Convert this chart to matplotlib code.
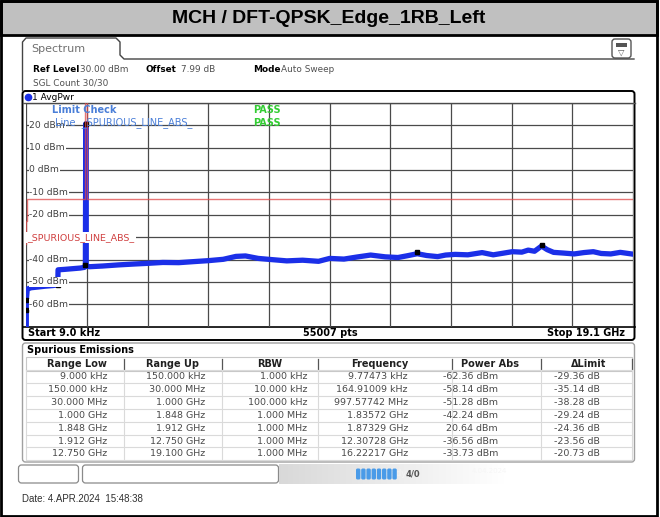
import matplotlib.pyplot as plt
import numpy as np
from matplotlib.patches import Rectangle, FancyBboxPatch

# --- data ---
# trace (GHz, dBm)
trace_f = [0.000009, 0.00001, 0.0001, 0.03, 0.15, 0.35, 0.6, 0.85, 0.99,
           1.0, 1.2, 1.45, 1.7, 1.83, 1.86, 1.873, 1.886, 2.0, 2.4, 2.9,
           3.4, 3.82, 4.3, 4.8, 5.3, 5.73, 6.2, 6.6, 6.9, 7.3, 7.7, 8.2,
           8.7, 9.2, 9.55, 10.0, 10.4, 10.84, 11.3, 11.7, 12.0, 12.31,
           12.6, 12.95, 13.2, 13.5, 13.9, 14.35, 14.7, 15.0, 15.3, 15.6,
           15.8, 16.0, 16.22, 16.4, 16.6, 16.9, 17.25, 17.55, 17.85, 18.1,
           18.4, 18.7, 19.05, 19.1]
trace_p = [-75.0, -62.4, -58.1, -53.2, -52.6, -52.3, -51.9, -51.6, -51.3,
           -44.6, -44.4, -44.1, -43.8, -43.5, -42.8, 20.64, -43.0, -43.2,
           -42.9, -42.4, -42.0, -41.7, -41.3, -41.4, -40.9, -40.5, -39.9,
           -38.6, -38.4, -39.5, -40.0, -40.6, -40.3, -40.8, -39.5, -39.8,
           -38.9, -38.0, -38.8, -39.1, -38.3, -37.4, -38.2, -38.7, -38.0,
           -37.7, -37.9, -36.9, -37.9, -37.2, -36.5, -36.7, -35.8, -36.3,
           -34.0, -35.6, -36.8, -37.1, -37.5, -36.9, -36.5, -37.3, -37.5,
           -36.8, -37.5, -37.6]

# limit line ranges (GHz) and limits (dBm)
range_edges = [0.000009, 0.00015, 0.03, 1.0, 1.848, 1.912, 12.75, 19.1]
range_limits = [-33, -23, -13, -13, 45, -13, -13]

# peak markers (GHz, dBm)
marker_f = [0.00000977473, 0.00016491009, 0.99757742, 1.83572, 1.87329,
            12.30728, 16.22217]
marker_p = [-62.36, -58.14, -51.28, -42.24, 20.64, -36.56, -33.73]

y_ticks = [20, 10, 0, -10, -20, -40, -50, -60]

# spurious emissions table
col_range_low = ["9.000 kHz", "150.000 kHz", "30.000 MHz", "1.000 GHz",
                 "1.848 GHz", "1.912 GHz", "12.750 GHz"]
col_range_up = ["150.000 kHz", "30.000 MHz", "1.000 GHz", "1.848 GHz",
                "1.912 GHz", "12.750 GHz", "19.100 GHz"]
col_rbw = ["1.000 kHz", "10.000 kHz", "100.000 kHz", "1.000 MHz",
           "1.000 MHz", "1.000 MHz", "1.000 MHz"]
col_freq = ["9.77473 kHz", "164.91009 kHz", "997.57742 MHz", "1.83572 GHz",
            "1.87329 GHz", "12.30728 GHz", "16.22217 GHz"]
col_power = ["-62.36 dBm", "-58.14 dBm", "-51.28 dBm", "-42.24 dBm",
             "20.64 dBm", "-36.56 dBm", "-33.73 dBm"]
col_delta = ["-29.36 dB", "-35.14 dB", "-38.28 dB", "-29.24 dB",
             "-24.36 dB", "-23.56 dB", "-20.73 dB"]
headers = ["Range Low", "Range Up", "RBW", "Frequency", "Power Abs", "ΔLimit"]

W, H = 660, 517
fig = plt.figure(figsize=(W / 100, H / 100), dpi=100)
bg = fig.add_axes([0, 0, 1, 1])
bg.set_xlim(0, W)
bg.set_ylim(H, 0)
bg.axis("off")
px = bg.transData

# outer frame and title band
bg.add_patch(Rectangle((1, 1), 656, 34, facecolor="#C0C0C0",
                       edgecolor="black", lw=2))
bg.add_patch(Rectangle((1, 1), 656, 515, facecolor="none",
                       edgecolor="black", lw=2))
bg.text(329, 18.5, "MCH / DFT-QPSK_Edge_1RB_Left", ha="center", va="center",
        fontsize=14, fontweight="bold", family="Liberation Sans")

# spectrum tab
tab_x = [22.5, 22.5, 26, 116, 120, 120, 124, 634]
tab_y = [91, 42, 38, 38, 42, 55, 59, 59]
bg.plot(tab_x, tab_y, color="#444444", lw=1)
bg.text(31, 49, "Spectrum", fontsize=8, color="#707070", va="center")
bg.add_patch(FancyBboxPatch((612, 39), 19, 19, boxstyle="round,pad=0,rounding_size=3",
                            facecolor="white", edgecolor="#555555", lw=1))
bg.add_patch(Rectangle((616, 43), 11, 4, facecolor="#555555", edgecolor="none"))
bg.text(621.5, 52.5, "▽", fontsize=6, ha="center", va="center", color="#555555")

# header info
f_info = dict(fontsize=6.4, va="center", family="DejaVu Sans")
bg.text(33, 70, "Ref Level", fontweight="bold", **f_info)
bg.text(80, 70, "30.00 dBm", color="#505050", **f_info)
bg.text(145, 70, "Offset", fontweight="bold", **f_info)
bg.text(181, 70, "7.99 dB", color="#505050", **f_info)
bg.text(253, 70, "Mode", fontweight="bold", **f_info)
bg.text(281, 70, "Auto Sweep", color="#505050", **f_info)
bg.text(33, 83, "SGL Count 30/30", color="#505050", **f_info)

# diagram box
bg.add_patch(FancyBboxPatch((22.5, 91), 612, 249, boxstyle="round,pad=0,rounding_size=3",
                            facecolor="white", edgecolor="black", lw=1.4))
bg.plot([22.5, 634.5], [102.8, 102.8], color="#555555", lw=1)
bg.plot([27.5], [97], "o", color="#1B2FE8", ms=4.5)
bg.text(32, 97.5, "1 AvgPwr", fontsize=6.5, va="center")
bg.text(28, 333, "Start 9.0 kHz", fontsize=7, fontweight="bold", va="center")
bg.text(330, 333, "55007 pts", fontsize=7, fontweight="bold", va="center", ha="center")
bg.text(625, 333, "Stop 19.1 GHz", fontsize=7, fontweight="bold", va="center", ha="right")
bg.plot([22.5, 634.5], [326.7, 326.7], color="black", lw=1.2)

# spectrum plot
f_start, f_stop = range_edges[0], range_edges[-1]
ax = fig.add_axes([26.3 / W, (H - 326.7) / H, 606.7 / W, 223.9 / H])
ax.patch.set_alpha(0)
ax.set_xlim(f_start, f_stop)
ax.set_ylim(-70, 30)
ax.set_xticks(np.linspace(f_start, f_stop, 11))
ax.set_yticks(np.arange(-70, 31, 10))
ax.grid(True, color="#4a4a4a", lw=0.9)
ax.tick_params(length=0, labelbottom=False, labelleft=False)
for s in ax.spines.values():
    s.set_visible(False)

ax.plot(trace_f, trace_p, color="#1B2FE8", lw=3.8, solid_joinstyle="round", zorder=3)
ax.plot(marker_f, marker_p, "s", color="black", ms=2.4, zorder=4)

lim_x = np.repeat(range_edges, 2)[1:-1]
lim_y = np.repeat(range_limits, 2)
ax.plot(lim_x, lim_y, color="#E04848", lw=1, alpha=0.75, zorder=5)

for v in y_ticks:
    ax.text(0.005, v, f"{v} dBm", transform=ax.get_yaxis_transform(),
            fontsize=6.6, color="#404040", va="center", zorder=6,
            bbox=dict(facecolor="white", edgecolor="none", pad=0.6))
ax.text(0.002, -30, "_SPURIOUS_LINE_ABS_", transform=ax.get_yaxis_transform(),
        fontsize=6.8, color="#D04040", va="center", zorder=6,
        bbox=dict(facecolor="white", edgecolor="none", pad=0.8))
ax.text(52, 110, "Limit Check", transform=px, fontsize=7, color="#4A7FD8",
        va="center", fontweight="bold", zorder=7)
ax.text(55, 123, "Line  _SPURIOUS_LINE_ABS_", transform=px, fontsize=7,
        color="#4A7FD8", va="center", zorder=7)
ax.text(253, 110, "PASS", transform=px, fontsize=7, color="#33CC33",
        va="center", fontweight="bold", zorder=7)
ax.text(253, 123, "PASS", transform=px, fontsize=7, color="#33CC33",
        va="center", fontweight="bold", zorder=7)

# spurious emissions table
bg.add_patch(FancyBboxPatch((22.5, 343), 612, 119, boxstyle="round,pad=0,rounding_size=3",
                            facecolor="white", edgecolor="#A0A0A0", lw=1))
bg.text(27, 350, "Spurious Emissions", fontsize=7, fontweight="bold", va="center")
col_div = [26, 124, 222, 318, 452, 541, 632]
head_cx = [77, 173, 270, 380, 490, 589]
val_rx = [107, 205, 307, 408, 498, 600]
head_y = 364
row_y0, row_h = 376.5, 12.9
n_rows = len(col_range_low)
bg.add_patch(Rectangle((26, 357), 606, 14, facecolor="white", edgecolor="#C8C8C8", lw=0.8))
for xd in col_div[1:]:
    bg.plot([xd, xd], [359, 369], color="#555555", lw=0.9)
for h, cx in zip(headers, head_cx):
    bg.text(cx, head_y, h, fontsize=7, fontweight="bold", ha="center", va="center",
            color="#202020")
for i in range(n_rows + 1):
    yl = row_y0 - row_h / 2 + i * row_h
    bg.plot([26, 632], [yl, yl], color="#DADADA", lw=0.8)
for xd in col_div:
    bg.plot([xd, xd], [row_y0 - row_h / 2, row_y0 - row_h / 2 + n_rows * row_h],
            color="#DADADA", lw=0.8)
cols = [col_range_low, col_range_up, col_rbw, col_freq, col_power, col_delta]
for col, rx in zip(cols, val_rx):
    for i, s in enumerate(col):
        bg.text(rx, row_y0 + i * row_h, s, fontsize=6.8, ha="right", va="center",
                color="#4a4a4a")

# status bar
bg.add_patch(FancyBboxPatch((18.5, 465), 60, 18, boxstyle="round,pad=0,rounding_size=3",
                            facecolor="white", edgecolor="#8a8a8a", lw=0.9))
bg.add_patch(FancyBboxPatch((82.5, 465), 196, 18, boxstyle="round,pad=0,rounding_size=3",
                            facecolor="white", edgecolor="#8a8a8a", lw=0.9))
grad = np.linspace(0, 1, 100)[None, :]
shade = 0.85 + 0.15 * grad
bg.imshow(np.dstack([shade, shade, shade]), extent=[279, 505, 484, 464],
          aspect="auto", zorder=1)
bg.text(380, 474, "Ready", fontsize=6, color="#f4f4f4", va="center", zorder=2)
for k in range(8):
    bg.add_patch(FancyBboxPatch((356 + k * 5.2, 468.5), 4.4, 11,
                                boxstyle="round,pad=0,rounding_size=1.5",
                                facecolor="#4A9BE8", edgecolor="none", zorder=3))
bg.text(406, 474, "4/0", fontsize=6, color="#555555", fontweight="bold",
        va="center", zorder=3)
bg.text(472, 471, "4.04.2024", fontsize=5, color="#f6f6f6", va="center", zorder=2)
bg.set_xlim(0, W)
bg.set_ylim(H, 0)

bg.text(22, 499, "Date: 4.APR.2024  15:48:38", fontsize=7, va="center",
        family="Liberation Sans", color="#303030")

fig.savefig("out.png", dpi=100)
